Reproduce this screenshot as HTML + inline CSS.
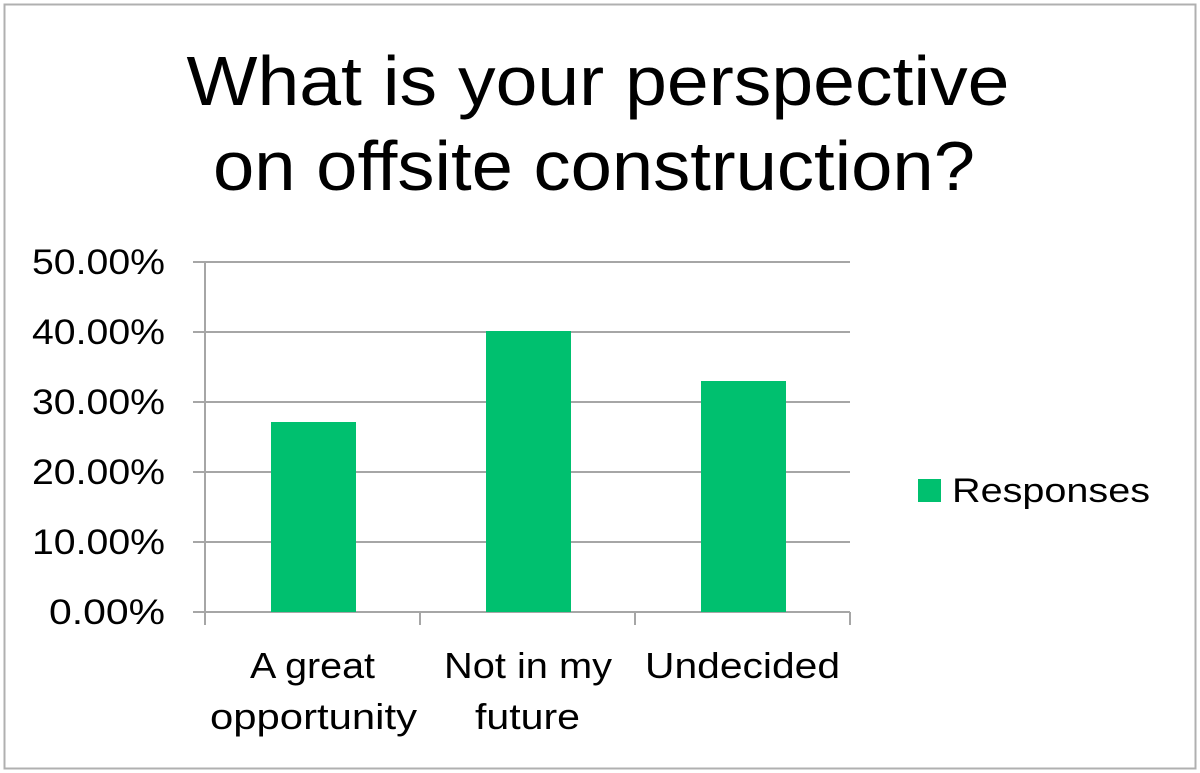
<!DOCTYPE html>
<html><head><style>html,body{margin:0;padding:0;background:#fff}svg{display:block}</style></head>
<body>
<svg width="1200" height="773" viewBox="0 0 1200 773" xmlns="http://www.w3.org/2000/svg" font-family="Liberation Sans, Arial, sans-serif">
<rect x="0" y="0" width="1200" height="773" fill="#fff"/>
<rect x="4.5" y="4.5" width="1191" height="764" fill="none" stroke="#b0b0b0" stroke-width="2"/>
<text x="598" y="105" font-size="70" text-anchor="middle" textLength="823" lengthAdjust="spacingAndGlyphs">What is your perspective</text>
<text x="594" y="190" font-size="70" text-anchor="middle" textLength="762" lengthAdjust="spacingAndGlyphs">on offsite construction?</text>
<g stroke="#a6a6a6" stroke-width="2">
<line x1="193" y1="262" x2="850" y2="262"/>
<line x1="193" y1="332" x2="850" y2="332"/>
<line x1="193" y1="402" x2="850" y2="402"/>
<line x1="193" y1="472" x2="850" y2="472"/>
<line x1="193" y1="542" x2="850" y2="542"/>
<line x1="193" y1="612" x2="850" y2="612"/>
<line x1="205" y1="262" x2="205" y2="625"/>
<line x1="420" y1="612" x2="420" y2="625"/>
<line x1="635" y1="612" x2="635" y2="625"/>
<line x1="850" y1="612" x2="850" y2="625"/>
</g>
<g fill="#00c06f">
<rect x="271" y="422" width="85" height="190"/>
<rect x="486" y="331" width="85" height="281"/>
<rect x="701" y="381" width="85" height="231"/>
</g>
<g font-size="35" text-anchor="end">
<text x="165" y="274" textLength="133" lengthAdjust="spacingAndGlyphs">50.00%</text>
<text x="165" y="344" textLength="133" lengthAdjust="spacingAndGlyphs">40.00%</text>
<text x="165" y="414" textLength="133" lengthAdjust="spacingAndGlyphs">30.00%</text>
<text x="165" y="484" textLength="133" lengthAdjust="spacingAndGlyphs">20.00%</text>
<text x="165" y="554" textLength="133" lengthAdjust="spacingAndGlyphs">10.00%</text>
<text x="165" y="624" textLength="116" lengthAdjust="spacingAndGlyphs">0.00%</text>
</g>
<g font-size="36">
<text x="250" y="678" textLength="125" lengthAdjust="spacingAndGlyphs">A great</text>
<text x="210" y="729" textLength="207" lengthAdjust="spacingAndGlyphs">opportunity</text>
<text x="444" y="678" textLength="168" lengthAdjust="spacingAndGlyphs">Not in my</text>
<text x="475" y="729" textLength="105" lengthAdjust="spacingAndGlyphs">future</text>
<text x="645" y="678" textLength="195" lengthAdjust="spacingAndGlyphs">Undecided</text>
</g>
<rect x="918" y="479" width="23" height="23" fill="#00c06f"/>
<text x="952" y="502" font-size="34" textLength="198" lengthAdjust="spacingAndGlyphs">Responses</text>
</svg>
</body></html>
